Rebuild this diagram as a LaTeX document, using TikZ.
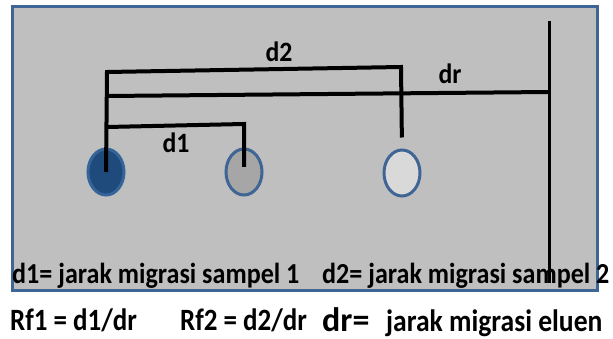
\documentclass[tikz,border=0pt]{standalone}
\usepackage{fontspec}
\setmainfont{Carlito}
% condensed cuts of the same face for the captions
\newfontfamily\labelfont[FakeStretch=0.92]{Carlito}
\newfontfamily\legendfont[FakeStretch=0.9]{Carlito}
\newfontfamily\formulafont[FakeStretch=0.87]{Carlito}
\newfontfamily\eluentfont[FakeStretch=0.89]{Carlito}
\usetikzlibrary{shapes.geometric}
\definecolor{plategray}{HTML}{BFBFBF}
\definecolor{plateedge}{HTML}{3F6594}
\definecolor{spotdark}{HTML}{1F4A7C}
\definecolor{spotdarkedge}{HTML}{35649A}
\definecolor{spotmid}{HTML}{A6A6A6}
\definecolor{spotlight}{HTML}{D9D9D9}
\begin{document}
\begin{tikzpicture}[x=1pt,y=-1pt,
  plate/.style={fill=plategray,draw=plateedge,line width=3pt},
  spot/.style={ellipse,draw=plateedge,line width=3pt,minimum width=36pt,minimum height=46pt,inner sep=0pt},
  bar/.style={line width=4pt,line join=miter,draw=black},
  frontline/.style={line width=3pt,draw=black},
  lbl/.style={font=\fontsize{28}{32}\selectfont\labelfont\bfseries,inner sep=0pt,anchor=base},
  legend/.style={font=\fontsize{29}{34}\selectfont\legendfont\bfseries,inner sep=0pt,anchor=base west},
  formula/.style={font=\fontsize{31}{36}\selectfont\formulafont\bfseries,inner sep=0pt,anchor=base west}]
\useasboundingbox (0,0) rectangle (613,339);
% TLC plate
\draw[plate] (12,7) rectangle (597,290);
% spots
\node[spot,fill=spotdark,draw=spotdarkedge] (s1) at (106,172) {};
\node[spot,fill=spotmid] (s2) at (244,172) {};
\node[spot,fill=spotlight] (s3) at (402,173) {};
% solvent front
\coordinate (fronttop) at (549,21);
\coordinate (frontbot) at (549,283);
\draw[frontline] (fronttop) -- (frontbot);
% distance brackets
\coordinate (d2l) at (107,72);
\coordinate (d2r) at (401,67);
\coordinate (drl) at (107,96);
\coordinate (drr) at (549,92);
\coordinate (d1l) at (107,127);
\coordinate (d1r) at (244,124);
\draw[bar,shorten >=11pt] (s1.center) -- (d2l) -- (d2r) -- (s3.north);
\draw[bar] (drl) -- (drr);
\draw[bar,shorten >=5pt] (d1l) -- (d1r) -- (s2.center);
% labels
\node[lbl] (ld2) at (279,62) {d2};
\node[lbl] (ldr) at (450,84) {dr};
\node[lbl] (ld1) at (176,153) {d1};
% legend
\node[legend] (t1) at (12,283) {d1= jarak migrasi sampel 1};
\node[legend] (t2) at (322,283) {d2= jarak migrasi sampel 2};
\node[formula] (t3) at (10,330) {Rf1 = d1/dr};
\node[formula] (t4) at (180,330) {Rf2 = d2/dr};
\node[formula,font=\fontsize{34}{40}\selectfont\bfseries] (t5) at (322,331) {dr=};
\node[formula,font=\fontsize{31}{36}\selectfont\eluentfont\bfseries] (t6) at (386,331) {jarak migrasi eluen};
\end{tikzpicture}
\end{document}
